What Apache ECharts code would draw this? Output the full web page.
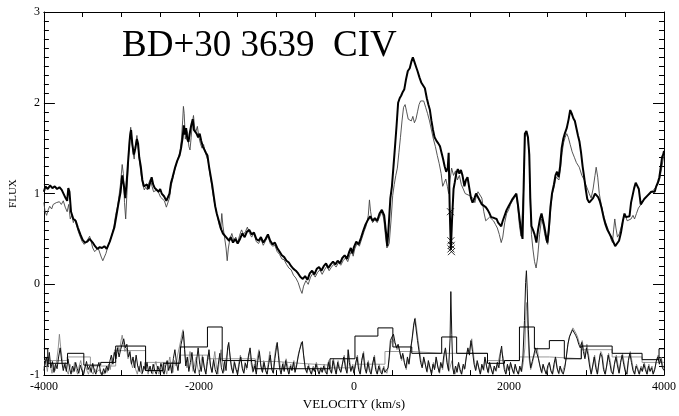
<!DOCTYPE html>
<html>
<head>
<meta charset="utf-8">
<title>BD+30 3639 CIV</title>
<script src="https://cdn.jsdelivr.net/npm/echarts@6/dist/echarts.min.js"></script>
<style>
  html, body { margin: 0; padding: 0; background: #fff; }
  #chart { width: 679px; height: 416px; }
</style>
</head>
<body>
<div id="chart"></div>
<script>
// Axis ranges and tick labels
const velocityRange = [-4000, 4000];
const fluxRange = [-1, 3];
const velocityLabels = [-4000, -2000, 0, 2000, 4000];
const titleText = 'BD+30 3639  CIV';

// Epoch 1 spectrum (heavy trace): [velocity km/s, flux]
const fluxEpoch1 = [
  [-4000,1.02],[-3980,1.08],[-3950,1.05],[-3920,1.09],[-3890,1.06],[-3860,1.08],[-3830,1.05],[-3800,1.07],
  [-3770,1.04],[-3745,1.02],[-3720,0.95],[-3700,0.92],[-3685,1.06],[-3670,1.02],[-3650,0.80],[-3620,0.72],
  [-3590,0.70],[-3560,0.62],[-3530,0.55],[-3500,0.49],[-3470,0.46],[-3440,0.47],[-3410,0.50],[-3390,0.52],
  [-3370,0.46],[-3340,0.42],[-3310,0.39],[-3280,0.41],[-3250,0.40],[-3220,0.42],[-3190,0.39],[-3170,0.41],
  [-3150,0.47],[-3120,0.55],[-3090,0.63],[-3060,0.78],[-3040,0.88],[-3010,1.02],[-2990,1.20],[-2970,1.10],
  [-2950,0.95],[-2930,1.15],[-2910,1.40],[-2890,1.62],[-2875,1.70],[-2860,1.55],[-2840,1.43],[-2820,1.50],
  [-2800,1.60],[-2785,1.55],[-2770,1.40],[-2750,1.30],[-2730,1.15],[-2710,1.08],[-2690,1.06],[-2670,1.10],
  [-2650,1.05],[-2630,1.12],[-2610,1.18],[-2590,1.10],[-2570,1.06],[-2550,1.04],[-2520,1.02],[-2500,1.05],
  [-2480,1.00],[-2450,0.97],[-2420,0.92],[-2400,0.90],[-2380,1.00],[-2360,1.12],[-2340,1.18],[-2310,1.28],
  [-2280,1.36],[-2250,1.42],[-2230,1.50],[-2210,1.62],[-2195,1.75],[-2180,1.65],[-2165,1.72],[-2150,1.60],
  [-2135,1.57],[-2115,1.68],[-2100,1.75],[-2080,1.82],[-2065,1.70],[-2050,1.72],[-2030,1.66],[-2010,1.62],
  [-1990,1.66],[-1970,1.58],[-1950,1.52],[-1930,1.50],[-1910,1.45],[-1890,1.42],[-1870,1.30],[-1850,1.20],
  [-1830,1.10],[-1810,0.98],[-1790,0.86],[-1770,0.78],[-1750,0.72],[-1730,0.66],[-1710,0.60],[-1690,0.56],
  [-1670,0.58],[-1650,0.52],[-1630,0.50],[-1610,0.48],[-1590,0.52],[-1560,0.46],[-1530,0.50],[-1500,0.45],
  [-1470,0.50],[-1440,0.56],[-1410,0.52],[-1380,0.58],[-1350,0.60],[-1320,0.55],[-1290,0.57],[-1260,0.50],
  [-1230,0.48],[-1200,0.52],[-1170,0.46],[-1140,0.50],[-1110,0.55],[-1080,0.48],[-1050,0.44],[-1020,0.46],
  [-990,0.40],[-960,0.36],[-930,0.32],[-900,0.30],[-870,0.26],[-840,0.24],[-810,0.20],[-780,0.17],
  [-750,0.15],[-720,0.12],[-690,0.08],[-660,0.06],[-630,0.09],[-600,0.05],[-570,0.12],[-540,0.15],
  [-510,0.11],[-480,0.17],[-450,0.19],[-420,0.15],[-390,0.20],[-360,0.23],[-330,0.18],[-300,0.22],
  [-270,0.25],[-240,0.22],[-210,0.26],[-180,0.23],[-150,0.29],[-120,0.32],[-90,0.28],[-60,0.36],
  [-40,0.40],[-20,0.34],[0,0.41],[30,0.47],[60,0.44],[90,0.51],[120,0.59],[150,0.66],
  [180,0.71],[210,0.75],[240,0.70],[270,0.73],[300,0.70],[330,0.78],[360,0.82],[390,0.76],
  [410,0.60],[430,0.42],[445,0.60],[470,0.95],[490,1.08],[510,1.30],[530,1.52],[550,1.75],
  [570,2.00],[590,2.05],[610,2.08],[630,2.12],[650,2.15],[670,2.25],[695,2.35],[720,2.38],
  [740,2.45],[760,2.50],[780,2.45],[800,2.40],[820,2.35],[845,2.28],[870,2.22],[895,2.20],
  [915,2.16],[940,2.05],[960,1.98],[980,1.92],[1000,1.80],[1020,1.70],[1040,1.62],[1065,1.58],
  [1090,1.55],[1110,1.52],[1130,1.45],[1150,1.38],[1170,1.30],[1190,1.24],[1210,1.28],[1222,1.45],
  [1235,0.85],[1250,0.38],[1265,0.70],[1285,1.05],[1300,1.12],[1320,1.22],[1340,1.27],[1360,1.22],
  [1380,1.26],[1400,1.20],[1425,1.08],[1445,1.15],[1465,1.18],[1490,1.05],[1510,0.95],[1530,0.90],
  [1555,0.95],[1575,1.00],[1600,0.98],[1625,0.92],[1650,0.88],[1675,0.90],[1700,0.85],[1725,0.82],
  [1750,0.78],[1770,0.74],[1790,0.76],[1810,0.73],[1840,0.72],[1860,0.68],[1880,0.66],[1900,0.64],
  [1920,0.70],[1945,0.76],[1970,0.82],[1995,0.86],[2020,0.90],[2045,0.94],[2070,0.92],[2095,1.00],
  [2115,0.88],[2140,0.70],[2160,0.57],[2175,0.50],[2190,1.10],[2205,1.66],[2225,1.69],[2245,1.62],
  [2262,1.43],[2275,0.95],[2290,0.64],[2310,0.60],[2330,0.55],[2354,0.46],[2375,0.60],[2400,0.72],
  [2420,0.78],[2440,0.70],[2460,0.62],[2480,0.52],[2495,0.46],[2515,0.62],[2535,0.85],[2555,1.00],
  [2580,1.10],[2600,1.20],[2620,1.24],[2640,1.18],[2660,1.30],[2680,1.50],[2700,1.60],[2720,1.66],
  [2745,1.72],[2770,1.82],[2790,1.92],[2810,1.88],[2830,1.83],[2850,1.80],[2870,1.72],[2890,1.64],
  [2910,1.57],[2930,1.45],[2950,1.30],[2970,1.18],[2990,1.05],[3010,0.94],[3035,0.90],[3060,0.90],
  [3085,0.95],[3110,1.00],[3130,1.00],[3150,0.96],[3170,0.92],[3195,0.84],[3220,0.74],[3245,0.66],
  [3270,0.60],[3295,0.56],[3320,0.52],[3345,0.47],[3370,0.42],[3395,0.40],[3420,0.48],[3445,0.57],
  [3470,0.70],[3490,0.78],[3510,0.74],[3530,0.72],[3555,0.75],[3575,0.90],[3595,0.98],[3615,1.06],
  [3635,1.12],[3655,1.14],[3675,1.05],[3700,0.88],[3720,0.90],[3745,0.94],[3770,0.96],[3790,0.98],
  [3810,1.00],[3835,1.02],[3860,1.04],[3880,1.02],[3900,1.08],[3920,1.12],[3940,1.18],[3960,1.30],
  [3975,1.40],[3990,1.43],[4000,1.47]
];

// Epoch 2 spectrum (light trace)
const fluxEpoch2 = [
  [-4000,0.90],[-3985,0.80],[-3965,0.76],[-3945,0.82],[-3925,0.86],[-3900,0.83],[-3880,0.88],[-3860,0.86],
  [-3840,0.90],[-3820,0.88],[-3800,0.91],[-3775,0.88],[-3750,0.92],[-3725,0.85],[-3700,0.80],[-3680,0.88],
  [-3660,0.72],[-3640,0.76],[-3620,0.68],[-3600,0.72],[-3580,0.65],[-3555,0.58],[-3530,0.52],[-3505,0.47],
  [-3480,0.44],[-3455,0.46],[-3430,0.50],[-3410,0.53],[-3390,0.47],[-3370,0.40],[-3345,0.36],[-3320,0.34],
  [-3300,0.40],[-3280,0.38],[-3260,0.30],[-3240,0.26],[-3220,0.28],[-3200,0.34],[-3180,0.40],[-3160,0.45],
  [-3130,0.52],[-3100,0.62],[-3075,0.76],[-3050,0.86],[-3030,0.98],[-3010,1.12],[-2990,1.32],[-2975,1.22],
  [-2960,0.90],[-2945,0.72],[-2930,0.98],[-2910,1.35],[-2895,1.62],[-2880,1.73],[-2865,1.58],[-2850,1.45],
  [-2835,1.38],[-2820,1.52],[-2800,1.64],[-2785,1.52],[-2765,1.34],[-2745,1.20],[-2725,1.10],[-2705,1.04],
  [-2685,1.07],[-2665,1.04],[-2645,1.12],[-2625,1.16],[-2605,1.08],[-2585,1.02],[-2560,1.00],[-2540,1.04],
  [-2515,1.00],[-2495,0.96],[-2470,0.98],[-2445,0.92],[-2420,0.85],[-2400,0.84],[-2380,0.95],[-2360,1.08],
  [-2340,1.15],[-2315,1.25],[-2290,1.33],[-2265,1.40],[-2245,1.46],[-2225,1.60],[-2210,1.80],[-2200,1.96],
  [-2190,1.88],[-2175,1.60],[-2160,1.70],[-2145,1.66],[-2130,1.52],[-2115,1.48],[-2100,1.62],[-2085,1.78],
  [-2070,1.86],[-2055,1.72],[-2040,1.68],[-2020,1.74],[-2000,1.62],[-1980,1.55],[-1960,1.50],[-1940,1.54],
  [-1920,1.46],[-1900,1.44],[-1880,1.35],[-1860,1.22],[-1840,1.12],[-1820,1.00],[-1800,0.90],[-1780,0.82],
  [-1760,0.74],[-1740,0.66],[-1720,0.60],[-1705,0.78],[-1690,0.64],[-1670,0.52],[-1650,0.40],[-1635,0.26],
  [-1620,0.40],[-1600,0.50],[-1575,0.56],[-1550,0.48],[-1525,0.52],[-1500,0.46],[-1475,0.54],[-1450,0.60],
  [-1425,0.55],[-1400,0.58],[-1375,0.63],[-1350,0.57],[-1320,0.52],[-1290,0.56],[-1260,0.47],[-1230,0.45],
  [-1200,0.50],[-1170,0.43],[-1140,0.48],[-1110,0.53],[-1080,0.45],[-1050,0.42],[-1020,0.43],[-990,0.36],
  [-960,0.33],[-930,0.28],[-900,0.27],[-870,0.22],[-840,0.18],[-810,0.16],[-780,0.10],[-750,0.07],
  [-720,0.02],[-690,-0.06],[-670,-0.10],[-650,-0.02],[-620,0.04],[-590,0.00],[-560,0.08],[-530,0.12],
  [-500,0.08],[-470,0.13],[-440,0.16],[-410,0.11],[-380,0.16],[-350,0.20],[-320,0.15],[-290,0.19],
  [-260,0.22],[-230,0.19],[-200,0.24],[-170,0.21],[-140,0.26],[-110,0.29],[-80,0.25],[-50,0.33],
  [-30,0.37],[-10,0.31],[10,0.39],[40,0.45],[70,0.42],[100,0.50],[130,0.58],[160,0.65],
  [185,0.76],[200,0.93],[215,0.80],[240,0.68],[270,0.71],[300,0.68],[330,0.74],[360,0.80],
  [385,0.72],[405,0.55],[425,0.40],[440,0.38],[455,0.45],[480,0.72],[500,0.98],[520,1.10],
  [540,1.20],[560,1.28],[580,1.45],[600,1.62],[620,1.80],[640,1.95],[660,1.98],[680,1.90],
  [700,1.82],[720,1.84],[740,1.80],[760,1.85],[780,1.78],[800,1.82],[820,1.90],[840,1.98],
  [860,2.02],[880,2.04],[900,2.02],[925,1.95],[950,1.88],[975,1.80],[1000,1.70],[1025,1.60],
  [1050,1.52],[1075,1.42],[1100,1.33],[1125,1.22],[1145,1.08],[1165,1.12],[1185,1.16],[1205,1.08],
  [1222,1.00],[1240,1.15],[1260,1.28],[1285,1.20],[1310,1.25],[1335,1.15],[1360,1.20],[1385,1.10],
  [1410,1.05],[1435,1.00],[1460,1.02],[1485,0.98],[1510,0.97],[1535,0.95],[1560,0.90],[1580,0.98],
  [1600,1.02],[1625,1.04],[1650,0.95],[1675,0.80],[1700,0.70],[1725,0.68],[1750,0.74],[1775,0.76],
  [1800,0.70],[1825,0.66],[1850,0.62],[1875,0.55],[1900,0.46],[1920,0.52],[1945,0.68],[1970,0.78],
  [1995,0.82],[2020,0.88],[2045,0.92],[2070,0.90],[2095,0.98],[2115,0.84],[2135,0.65],[2155,0.53],
  [2175,0.55],[2190,1.05],[2205,1.62],[2225,1.68],[2245,1.60],[2262,1.40],[2275,0.90],[2290,0.55],
  [2310,0.38],[2330,0.25],[2350,0.18],[2370,0.30],[2395,0.55],[2420,0.72],[2440,0.66],[2460,0.56],
  [2480,0.48],[2500,0.44],[2520,0.60],[2540,0.85],[2560,1.00],[2585,1.08],[2605,1.18],[2625,1.20],
  [2645,1.15],[2665,1.28],[2685,1.45],[2705,1.56],[2725,1.62],[2745,1.66],[2765,1.62],[2790,1.54],
  [2815,1.46],[2843,1.40],[2870,1.34],[2907,1.29],[2940,1.20],[2971,1.15],[2990,1.10],[3010,1.08],
  [3035,1.00],[3060,0.95],[3085,1.05],[3110,1.20],[3125,1.29],[3145,1.18],[3165,1.00],[3190,0.88],
  [3215,0.78],[3240,0.70],[3265,0.64],[3290,0.58],[3315,0.50],[3335,0.46],[3350,0.60],[3365,0.72],
  [3380,0.62],[3400,0.52],[3425,0.56],[3450,0.64],[3475,0.72],[3500,0.76],[3525,0.70],[3550,0.68],
  [3575,0.72],[3600,0.76],[3620,0.72],[3645,0.78],[3670,0.84],[3695,0.86],[3720,0.90],[3745,0.94],
  [3770,0.96],[3795,0.98],[3820,1.00],[3845,1.02],[3870,1.04],[3895,1.07],[3920,1.10],[3945,1.16],
  [3970,1.28],[3990,1.38],[4000,1.42]
];

// Rejected pixels flagged in the epoch 1 spectrum
const flaggedPoints = [[1245,0.80],[1250,0.48],[1256,0.43],[1252,0.39],[1258,0.36]];

// Residual spectra, offset to the bottom of the panel
const residual1 = [
  [-4000,-0.95],[-3970,-0.80],[-3950,-0.90],[-3930,-0.75],[-3910,-0.92],[-3890,-0.85],[-3870,-0.97],[-3850,-0.88],
  [-3830,-0.93],[-3810,-0.80],[-3790,-0.70],[-3770,-0.85],[-3750,-0.95],[-3730,-0.88],[-3710,-0.96],[-3690,-0.82],
  [-3670,-0.92],[-3650,-0.99],[-3630,-0.90],[-3610,-0.96],[-3590,-0.86],[-3570,-0.93],[-3550,-0.98],[-3530,-0.89],
  [-3510,-0.95],[-3490,-1.00],[-3470,-0.92],[-3450,-0.85],[-3430,-0.94],[-3410,-0.90],[-3390,-0.97],[-3370,-0.87],
  [-3350,-0.95],[-3330,-0.99],[-3310,-0.91],[-3290,-0.86],[-3270,-0.96],[-3250,-1.00],[-3230,-0.93],[-3210,-0.98],
  [-3190,-0.90],[-3170,-0.95],[-3150,-0.85],[-3130,-0.78],[-3110,-0.88],[-3090,-0.75],[-3070,-0.82],[-3050,-0.70],
  [-3030,-0.80],[-3010,-0.72],[-2990,-0.66],[-2970,-0.60],[-2950,-0.70],[-2930,-0.66],[-2910,-0.80],[-2890,-0.74],
  [-2870,-0.88],[-2850,-0.80],[-2830,-0.92],[-2810,-0.78],[-2790,-0.90],[-2770,-0.96],[-2750,-0.85],[-2730,-0.98],
  [-2710,-0.90],[-2690,-0.95],[-2670,-0.86],[-2650,-0.96],[-2630,-0.90],[-2610,-0.98],[-2590,-0.88],[-2570,-0.95],
  [-2550,-0.99],[-2530,-0.90],[-2510,-0.96],[-2490,-0.87],[-2470,-0.94],[-2450,-0.99],[-2430,-0.90],[-2410,-0.84],
  [-2390,-0.95],[-2370,-0.88],[-2350,-0.98],[-2330,-0.82],[-2310,-0.72],[-2290,-0.86],[-2270,-0.95],[-2250,-0.80],
  [-2230,-0.66],[-2210,-0.58],[-2200,-0.52],[-2185,-0.72],[-2170,-0.90],[-2150,-0.80],[-2130,-0.96],[-2110,-0.86],
  [-2090,-0.75],[-2070,-0.92],[-2050,-0.98],[-2030,-0.84],[-2010,-0.70],[-1990,-0.88],[-1970,-0.96],[-1950,-0.80],
  [-1930,-0.92],[-1910,-0.99],[-1890,-0.85],[-1870,-0.72],[-1850,-0.90],[-1830,-0.97],[-1810,-0.83],[-1790,-0.94],
  [-1770,-0.99],[-1750,-0.88],[-1730,-0.76],[-1710,-0.92],[-1690,-0.98],[-1670,-0.85],[-1650,-0.95],[-1630,-0.70],
  [-1615,-0.64],[-1600,-0.78],[-1580,-0.92],[-1560,-0.98],[-1540,-0.86],[-1520,-0.94],[-1500,-0.99],[-1480,-0.88],
  [-1460,-0.80],[-1440,-0.93],[-1420,-0.98],[-1400,-0.87],[-1380,-0.92],[-1360,-0.78],[-1340,-0.70],[-1320,-0.86],
  [-1300,-0.96],[-1280,-0.90],[-1260,-0.99],[-1240,-0.84],[-1220,-0.74],[-1200,-0.90],[-1180,-0.97],[-1160,-0.86],
  [-1140,-0.95],[-1120,-0.99],[-1100,-0.88],[-1080,-0.78],[-1060,-0.94],[-1040,-0.98],[-1020,-0.82],[-1000,-0.70],
  [-990,-0.64],[-975,-0.78],[-960,-0.92],[-940,-0.99],[-920,-0.88],[-900,-0.96],[-880,-0.84],[-860,-0.93],
  [-840,-0.99],[-820,-0.90],[-800,-0.95],[-780,-0.86],[-760,-0.97],[-740,-0.90],[-720,-0.80],[-700,-0.72],
  [-680,-0.66],[-665,-0.63],[-650,-0.78],[-630,-0.92],[-610,-0.97],[-590,-0.90],[-570,-0.95],[-550,-0.99],
  [-530,-0.92],[-510,-0.96],[-490,-0.88],[-470,-0.94],[-450,-0.99],[-430,-0.93],[-410,-0.97],[-390,-0.90],
  [-370,-0.96],[-350,-0.99],[-330,-0.86],[-310,-0.94],[-290,-0.98],[-270,-0.84],[-250,-0.92],[-230,-0.99],
  [-210,-0.86],[-190,-0.93],[-170,-0.97],[-150,-0.88],[-130,-0.80],[-110,-0.92],[-90,-0.98],[-75,-0.72],
  [-60,-0.86],[-40,-0.96],[-20,-0.90],[0,-0.98],[20,-0.88],[40,-0.80],[60,-0.94],[80,-0.99],
  [100,-0.84],[120,-0.76],[140,-0.92],[160,-0.98],[180,-0.86],[200,-0.95],[220,-0.99],[240,-0.88],
  [260,-0.80],[280,-0.94],[300,-0.99],[320,-0.90],[340,-0.96],[360,-0.99],[380,-0.92],[400,-0.97],
  [420,-0.99],[440,-0.92],[455,-0.80],[470,-0.62],[490,-0.58],[510,-0.55],[530,-0.64],[550,-0.70],
  [570,-0.66],[590,-0.74],[610,-0.82],[630,-0.76],[650,-0.86],[670,-0.92],[690,-0.80],[710,-0.88],
  [730,-0.72],[750,-0.60],[770,-0.45],[785,-0.38],[800,-0.48],[820,-0.62],[840,-0.74],[860,-0.86],
  [880,-0.92],[900,-0.80],[920,-0.88],[940,-0.96],[960,-0.84],[980,-0.92],[1000,-0.99],[1020,-0.88],
  [1040,-0.94],[1060,-0.80],[1080,-0.90],[1100,-0.97],[1120,-0.86],[1140,-0.92],[1160,-0.78],[1180,-0.70],
  [1200,-0.86],[1220,-0.95],[1240,-0.60],[1250,-0.08],[1262,-0.55],[1275,-0.92],[1290,-0.99],[1310,-0.90],
  [1330,-0.97],[1350,-0.86],[1370,-0.94],[1390,-0.99],[1410,-0.88],[1430,-0.93],[1450,-0.80],[1470,-0.70],
  [1490,-0.78],[1510,-0.62],[1530,-0.74],[1550,-0.88],[1570,-0.95],[1590,-0.84],[1610,-0.92],[1630,-0.99],
  [1650,-0.88],[1670,-0.94],[1690,-0.80],[1710,-0.90],[1730,-0.97],[1750,-0.86],[1770,-0.93],[1790,-0.99],
  [1810,-0.90],[1830,-0.95],[1850,-0.86],[1870,-0.92],[1890,-0.76],[1905,-0.68],[1920,-0.82],[1940,-0.94],
  [1960,-0.99],[1980,-0.88],[2000,-0.95],[2020,-0.86],[2040,-0.93],[2060,-0.98],[2080,-0.88],[2100,-0.95],
  [2120,-0.99],[2140,-0.90],[2160,-0.96],[2180,-0.80],[2200,-0.40],[2215,0.02],[2225,0.15],[2235,-0.05],
  [2250,-0.50],[2265,-0.80],[2280,-0.92],[2300,-0.85],[2320,-0.78],[2340,-0.70],[2360,-0.72],[2380,-0.82],
  [2400,-0.90],[2420,-0.97],[2440,-0.88],[2460,-0.94],[2480,-0.99],[2500,-0.90],[2520,-0.86],[2540,-0.95],
  [2560,-0.99],[2580,-0.88],[2600,-0.80],[2620,-0.92],[2640,-0.98],[2660,-0.90],[2680,-0.96],[2700,-0.99],
  [2720,-0.92],[2740,-0.80],[2760,-0.66],[2780,-0.58],[2800,-0.54],[2820,-0.50],[2840,-0.48],[2860,-0.56],
  [2880,-0.60],[2900,-0.66],[2920,-0.70],[2940,-0.64],[2960,-0.74],[2980,-0.82],[3000,-0.70],[3020,-0.78],
  [3040,-0.90],[3060,-0.99],[3080,-0.90],[3100,-0.80],[3120,-0.92],[3140,-0.99],[3160,-0.86],[3180,-0.76],
  [3200,-0.80],[3220,-0.94],[3240,-0.99],[3260,-0.90],[3280,-0.78],[3300,-0.86],[3320,-0.96],[3340,-0.99],
  [3360,-0.88],[3380,-0.80],[3400,-0.90],[3420,-0.98],[3440,-0.86],[3460,-0.78],[3480,-0.88],[3500,-0.96],
  [3520,-0.99],[3540,-0.84],[3560,-0.76],[3580,-0.86],[3600,-0.95],[3620,-0.99],[3640,-0.90],[3660,-0.94],
  [3680,-0.99],[3700,-0.92],[3720,-0.96],[3740,-0.88],[3760,-0.94],[3780,-0.99],[3800,-0.90],[3820,-0.96],
  [3840,-0.92],[3860,-0.99],[3880,-0.94],[3900,-0.85],[3920,-0.80],[3940,-0.88],[3960,-0.82],[3980,-0.92],
  [4000,-0.95]
];

const residual2 = [
  [-4000,-0.92],[-3975,-0.85],[-3955,-0.96],[-3935,-0.80],[-3915,-0.90],[-3895,-0.98],[-3875,-0.88],[-3855,-0.95],
  [-3835,-0.84],[-3815,-0.70],[-3800,-0.55],[-3785,-0.68],[-3765,-0.82],[-3745,-0.92],[-3725,-0.86],[-3705,-0.95],
  [-3685,-0.99],[-3665,-0.88],[-3645,-0.93],[-3625,-0.97],[-3605,-0.86],[-3585,-0.94],[-3565,-0.99],[-3545,-0.90],
  [-3525,-0.84],[-3505,-0.93],[-3485,-0.98],[-3465,-0.88],[-3445,-0.95],[-3425,-0.99],[-3405,-0.92],[-3385,-0.96],
  [-3365,-0.99],[-3345,-0.93],[-3325,-0.97],[-3305,-0.99],[-3285,-0.94],[-3265,-0.99],[-3245,-0.96],[-3225,-0.99],
  [-3205,-0.92],[-3185,-0.97],[-3165,-0.88],[-3145,-0.94],[-3125,-0.84],[-3105,-0.80],[-3085,-0.72],[-3065,-0.76],
  [-3045,-0.68],[-3025,-0.74],[-3005,-0.62],[-2990,-0.56],[-2975,-0.64],[-2955,-0.74],[-2935,-0.70],[-2915,-0.82],
  [-2895,-0.76],[-2875,-0.86],[-2855,-0.92],[-2835,-0.84],[-2815,-0.94],[-2795,-0.99],[-2775,-0.90],[-2755,-0.96],
  [-2735,-0.99],[-2715,-0.94],[-2695,-0.86],[-2675,-0.93],[-2655,-0.99],[-2635,-0.92],[-2615,-0.96],[-2595,-0.99],
  [-2575,-0.90],[-2555,-0.85],[-2535,-0.94],[-2515,-0.99],[-2495,-0.92],[-2475,-0.97],[-2455,-0.86],[-2435,-0.93],
  [-2415,-0.99],[-2395,-0.88],[-2375,-0.80],[-2355,-0.92],[-2335,-0.97],[-2315,-0.84],[-2295,-0.90],[-2275,-0.78],
  [-2255,-0.70],[-2235,-0.62],[-2220,-0.55],[-2205,-0.50],[-2190,-0.64],[-2175,-0.80],[-2155,-0.92],[-2135,-0.86],
  [-2115,-0.74],[-2095,-0.84],[-2075,-0.96],[-2055,-0.88],[-2035,-0.80],[-2015,-0.92],[-1995,-0.99],[-1975,-0.86],
  [-1955,-0.78],[-1935,-0.90],[-1915,-0.98],[-1895,-0.84],[-1875,-0.76],[-1855,-0.88],[-1835,-0.97],[-1815,-0.86],
  [-1795,-0.74],[-1775,-0.90],[-1755,-0.99],[-1735,-0.82],[-1715,-0.72],[-1695,-0.86],[-1675,-0.96],[-1655,-0.84],
  [-1635,-0.76],[-1620,-0.66],[-1605,-0.74],[-1585,-0.88],[-1565,-0.96],[-1545,-0.84],[-1525,-0.92],[-1505,-0.99],
  [-1485,-0.86],[-1465,-0.78],[-1445,-0.90],[-1425,-0.97],[-1405,-0.86],[-1385,-0.94],[-1365,-0.82],[-1345,-0.74],
  [-1325,-0.88],[-1305,-0.97],[-1285,-0.88],[-1265,-0.96],[-1245,-0.80],[-1225,-0.72],[-1205,-0.88],[-1185,-0.96],
  [-1165,-0.84],[-1145,-0.92],[-1125,-0.99],[-1105,-0.86],[-1085,-0.74],[-1065,-0.90],[-1045,-0.97],[-1025,-0.80],
  [-1005,-0.68],[-990,-0.65],[-975,-0.74],[-955,-0.88],[-935,-0.96],[-915,-0.86],[-895,-0.93],[-875,-0.82],
  [-855,-0.90],[-835,-0.98],[-815,-0.88],[-795,-0.94],[-775,-0.84],[-755,-0.94],[-735,-0.86],[-715,-0.76],
  [-695,-0.70],[-680,-0.64],[-665,-0.68],[-645,-0.80],[-625,-0.93],[-605,-0.98],[-585,-0.88],[-565,-0.94],
  [-545,-0.99],[-525,-0.90],[-505,-0.95],[-485,-0.86],[-465,-0.92],[-445,-0.98],[-425,-0.91],[-405,-0.96],
  [-385,-0.88],[-365,-0.94],[-345,-0.99],[-325,-0.84],[-305,-0.92],[-285,-0.97],[-265,-0.82],[-245,-0.90],
  [-225,-0.98],[-205,-0.84],[-185,-0.92],[-165,-0.96],[-145,-0.86],[-125,-0.78],[-105,-0.90],[-85,-0.96],
  [-70,-0.74],[-55,-0.84],[-35,-0.94],[-15,-0.88],[5,-0.96],[25,-0.86],[45,-0.78],[65,-0.92],
  [85,-0.98],[105,-0.82],[125,-0.74],[145,-0.90],[165,-0.96],[185,-0.84],[205,-0.93],[225,-0.98],
  [245,-0.86],[265,-0.78],[285,-0.92],[305,-0.98],[325,-0.88],[345,-0.94],[365,-0.98],[385,-0.90],
  [405,-0.95],[425,-0.98],[445,-0.90],[460,-0.78],[475,-0.66],[495,-0.60],[515,-0.58],[535,-0.66],
  [555,-0.72],[575,-0.68],[595,-0.76],[615,-0.84],[635,-0.78],[655,-0.88],[675,-0.94],[695,-0.82],
  [715,-0.86],[735,-0.70],[755,-0.58],[775,-0.44],[790,-0.37],[805,-0.46],[825,-0.60],[845,-0.72],
  [865,-0.84],[885,-0.90],[905,-0.82],[925,-0.90],[945,-0.97],[965,-0.86],[985,-0.93],[1005,-0.98],
  [1025,-0.86],[1045,-0.92],[1065,-0.82],[1085,-0.92],[1105,-0.98],[1125,-0.88],[1145,-0.94],[1165,-0.80],
  [1185,-0.72],[1205,-0.88],[1225,-0.96],[1245,-0.90],[1265,-0.84],[1285,-0.96],[1305,-0.99],[1325,-0.92],
  [1345,-0.88],[1365,-0.95],[1385,-0.99],[1405,-0.90],[1425,-0.94],[1445,-0.82],[1465,-0.72],[1485,-0.76],
  [1505,-0.64],[1520,-0.60],[1535,-0.72],[1555,-0.86],[1575,-0.94],[1595,-0.86],[1615,-0.93],[1635,-0.98],
  [1655,-0.90],[1675,-0.95],[1695,-0.82],[1715,-0.92],[1735,-0.98],[1755,-0.88],[1775,-0.94],[1795,-0.99],
  [1815,-0.92],[1835,-0.96],[1855,-0.88],[1875,-0.80],[1895,-0.72],[1910,-0.70],[1925,-0.80],[1945,-0.92],
  [1965,-0.98],[1985,-0.90],[2005,-0.96],[2025,-0.88],[2045,-0.94],[2065,-0.99],[2085,-0.90],[2105,-0.96],
  [2125,-0.99],[2145,-0.92],[2165,-0.96],[2185,-0.86],[2205,-0.70],[2220,-0.30],[2230,-0.20],[2245,-0.55],
  [2260,-0.82],[2280,-0.94],[2300,-0.88],[2320,-0.80],[2345,-0.74],[2365,-0.70],[2385,-0.84],[2405,-0.92],
  [2425,-0.98],[2445,-0.90],[2465,-0.95],[2485,-0.99],[2505,-0.92],[2525,-0.88],[2545,-0.96],[2565,-0.99],
  [2585,-0.90],[2605,-0.82],[2625,-0.94],[2645,-0.99],[2665,-0.92],[2685,-0.97],[2705,-0.99],[2725,-0.88],
  [2745,-0.76],[2765,-0.64],[2785,-0.56],[2805,-0.52],[2825,-0.48],[2843,-0.47],[2865,-0.54],[2885,-0.58],
  [2905,-0.64],[2925,-0.68],[2945,-0.62],[2965,-0.72],[2985,-0.80],[3005,-0.66],[3025,-0.76],[3045,-0.88],
  [3065,-0.98],[3085,-0.88],[3105,-0.78],[3125,-0.90],[3145,-0.98],[3165,-0.84],[3185,-0.74],[3205,-0.78],
  [3225,-0.92],[3245,-0.99],[3265,-0.88],[3285,-0.76],[3305,-0.84],[3325,-0.95],[3345,-0.99],[3365,-0.86],
  [3385,-0.78],[3405,-0.88],[3425,-0.97],[3445,-0.84],[3465,-0.76],[3485,-0.86],[3505,-0.95],[3525,-0.99],
  [3545,-0.82],[3565,-0.74],[3585,-0.84],[3605,-0.94],[3625,-0.99],[3645,-0.88],[3665,-0.93],[3685,-0.99],
  [3705,-0.90],[3725,-0.95],[3745,-0.86],[3765,-0.93],[3785,-0.99],[3805,-0.88],[3825,-0.95],[3845,-0.90],
  [3865,-0.98],[3885,-0.92],[3905,-0.83],[3925,-0.78],[3945,-0.86],[3965,-0.80],[3985,-0.90],[4000,-0.93]
];

// Binned residuals: each entry is the left edge of a bin and its level
const binnedResidual1 = [
  [-4000,-0.71],[-3950,-0.87],[-3695,-0.76],[-3485,-0.89],[-3267,-0.86],[-3074,-0.68],[-2688,-0.95],
  [-2460,-0.87],[-2240,-0.69],[-1890,-0.47],[-1700,-0.84],[-1273,-0.93],[-309,-0.82],[13,-0.57],
  [309,-0.48],[502,-0.69],[746,-0.76],[1132,-0.58],[1325,-0.76],[1723,-0.87],[1942,-0.84],[2135,-0.47],
  [2328,-0.71],[2521,-0.62],[2714,-0.82],[2933,-0.68],[3331,-0.76],[3717,-0.83],[3936,-0.71],[4000,-0.71]
];
const binnedResidual2 = [
  [-4000,-0.84],[-3700,-0.80],[-3400,-0.90],[-3074,-0.73],[-2688,-0.86],[-2240,-0.78],[-1890,-0.82],
  [-1273,-0.85],[-1000,-0.87],[-700,-0.89],[-309,-0.92],[13,-0.88],[400,-0.74],[746,-0.76],[1132,-0.76],
  [1723,-0.84],[2135,-0.80],[2521,-0.82],[2933,-0.72],[3331,-0.80],[3717,-0.86],[4000,-0.86]
];

const serif = '"Liberation Serif", "DejaVu Serif", serif';
const chart = echarts.init(document.getElementById('chart'), null, { renderer: 'canvas' });

const frameAxisX = (extra) => Object.assign({
  type: 'value', min: velocityRange[0], max: velocityRange[1], interval: 500,
  axisLine: { show: true, onZero: false, lineStyle: { color: '#000', width: 1 } },
  axisTick: { show: true, inside: true, length: 5, lineStyle: { color: '#000', width: 1 } },
  splitLine: { show: false }
}, extra);

const frameAxisY = (extra) => Object.assign({
  type: 'value', min: fluxRange[0], max: fluxRange[1], interval: 1,
  axisLine: { show: true, onZero: false, lineStyle: { color: '#000', width: 1 } },
  axisTick: { show: true, inside: true, length: 11, lineStyle: { color: '#000', width: 1 } },
  minorTick: { show: true, splitNumber: 10, length: 5, lineStyle: { color: '#000', width: 1 } },
  splitLine: { show: false }, minorSplitLine: { show: false }
}, extra);

const lineSeries = (data, color, width, extra) => Object.assign({
  type: 'line', data: data, showSymbol: false, symbol: 'none', silent: true,
  lineStyle: { color: color, width: width }, z: 2
}, extra);

chart.setOption({
  animation: false,
  backgroundColor: '#fff',
  grid: { left: 43, right: 15, top: 12, bottom: 34, containLabel: false },
  xAxis: [
    frameAxisX({
      position: 'bottom',
      name: 'VELOCITY (km/s)', nameLocation: 'middle', nameGap: 21,
      nameTextStyle: { fontFamily: serif, fontSize: 13, color: '#000' },
      axisLabel: {
        show: true, margin: 6, fontFamily: serif, fontSize: 12, color: '#000',
        showMinLabel: true, showMaxLabel: true,
        formatter: (v) => velocityLabels.indexOf(v) >= 0 ? String(v) : ''
      }
    }),
    frameAxisX({ position: 'top', axisLabel: { show: false } })
  ],
  yAxis: [
    frameAxisY({
      position: 'left',
      name: 'FLUX', nameLocation: 'middle', nameGap: 22, nameRotate: 90,
      nameTextStyle: { fontFamily: serif, fontSize: 11, color: '#000' },
      axisLabel: { show: true, margin: 4, fontFamily: serif, fontSize: 12, color: '#000' }
    }),
    frameAxisY({ position: 'right', axisLabel: { show: false } })
  ],
  graphic: [{
    type: 'text', left: 122, top: 28, silent: true,
    style: { text: titleText, font: '37px ' + serif, fill: '#000' }
  }],
  series: [
    lineSeries(binnedResidual2, '#9a9a9a', 1, { step: 'end' }),
    lineSeries(residual2, '#777', 0.8),
    lineSeries(residual1, '#111', 1),
    lineSeries(binnedResidual1, '#000', 1, { step: 'end' }),
    lineSeries(fluxEpoch2, '#444', 0.9),
    lineSeries(fluxEpoch1, '#000', 2),
    {
      type: 'scatter', data: flaggedPoints, silent: true, z: 3,
      symbol: 'path://M0,0L10,10M10,0L0,10', symbolSize: 7,
      itemStyle: { color: 'none', borderColor: '#000', borderWidth: 1 }
    }
  ]
});
</script>
</body>
</html>
